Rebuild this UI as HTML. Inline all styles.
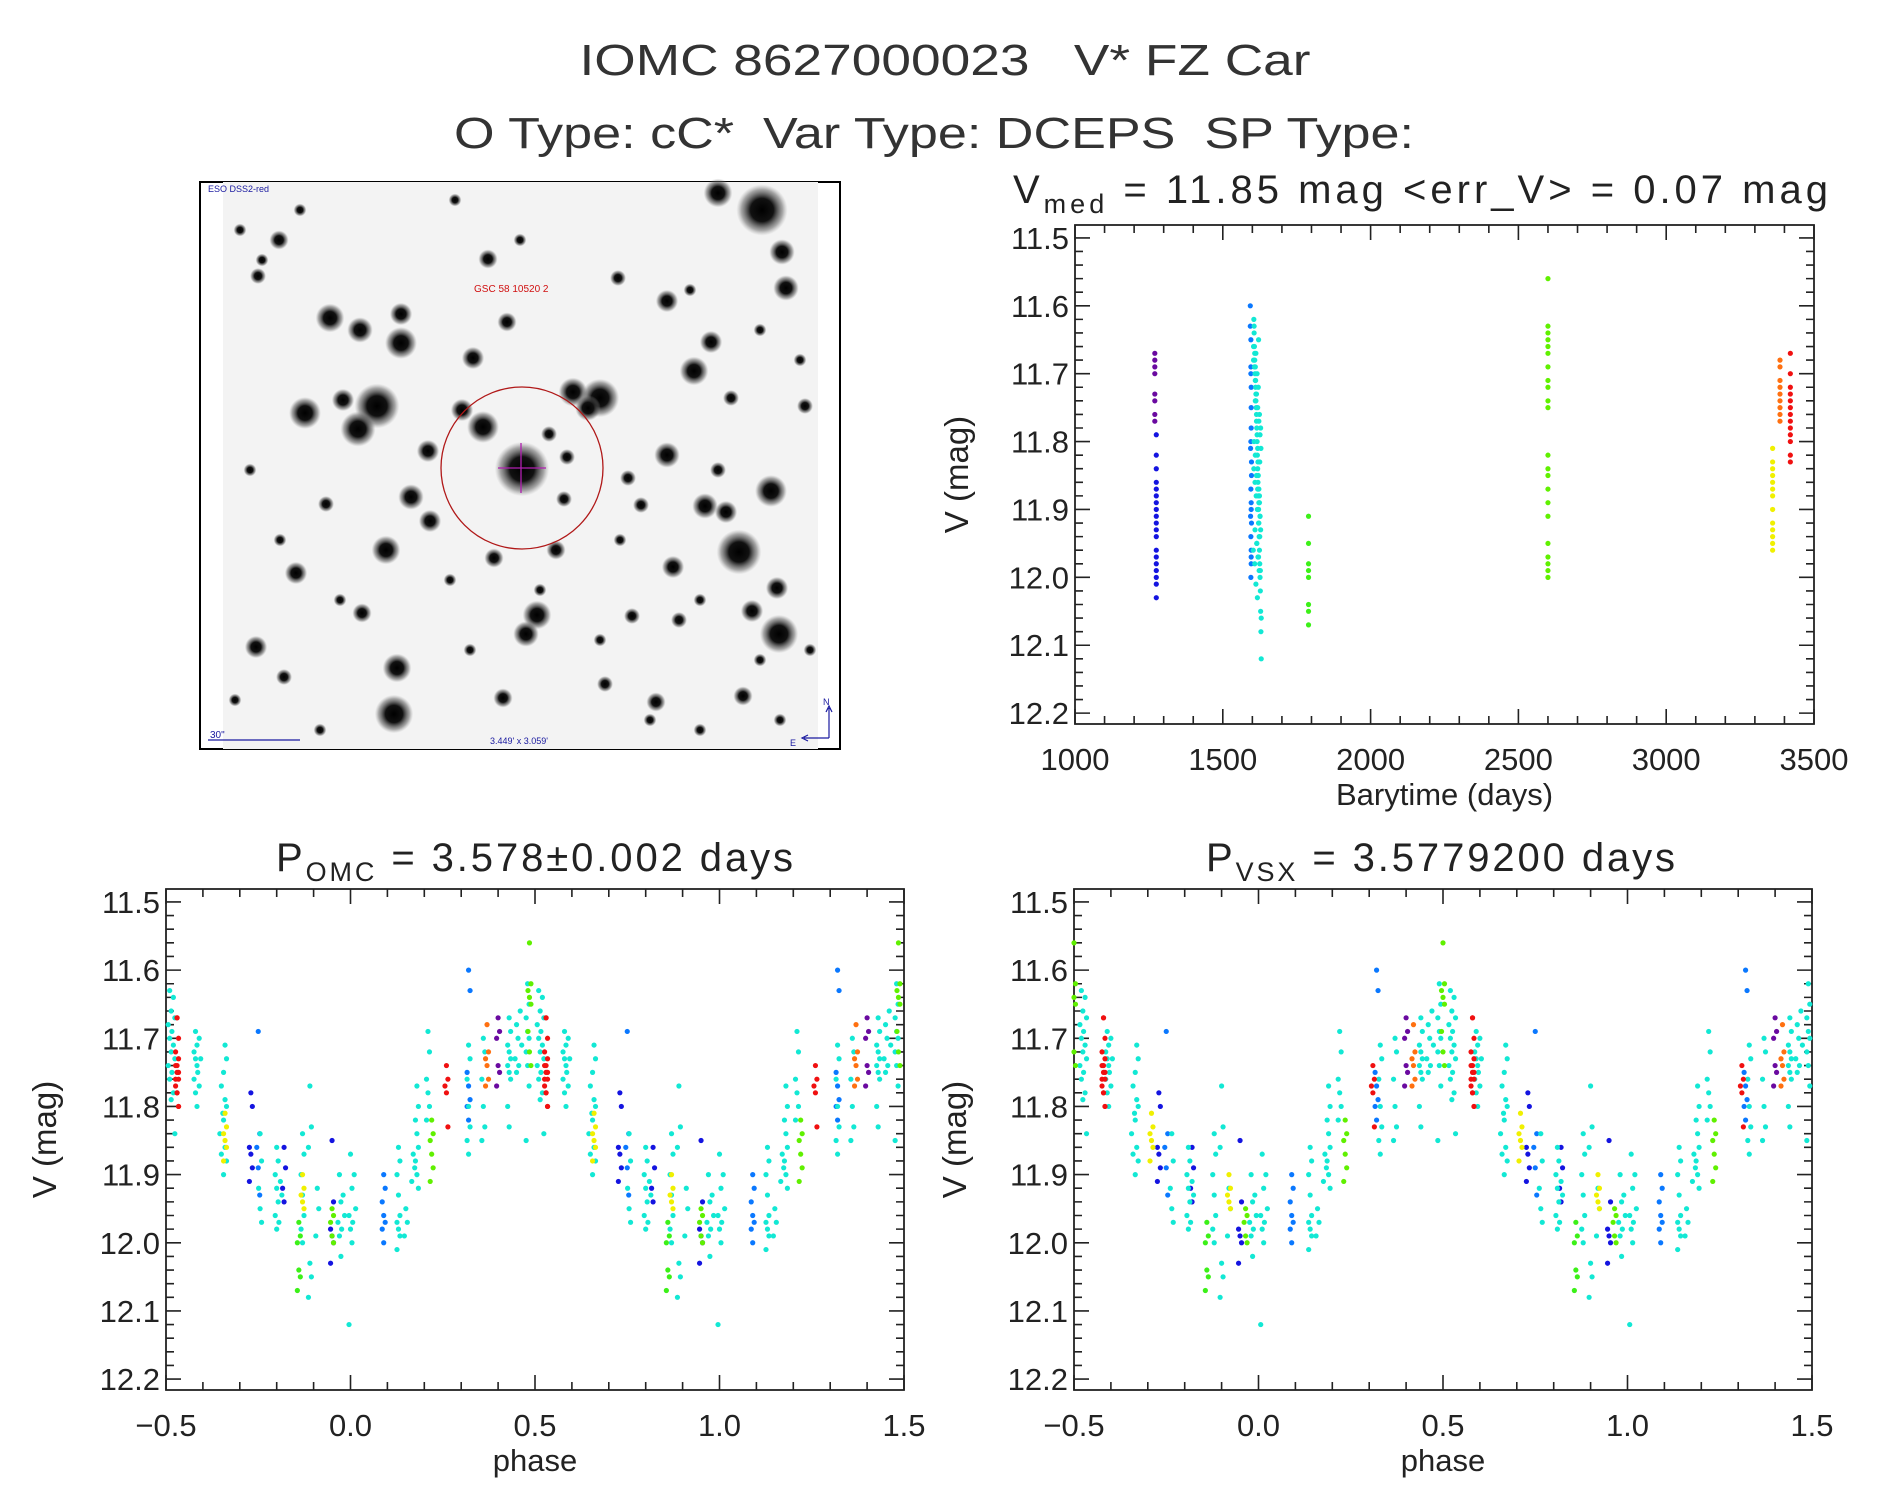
<!DOCTYPE html>
<html><head><meta charset="utf-8"><style>
html,body{margin:0;padding:0;background:#fff;}
svg{display:block;font-family:"Liberation Sans",sans-serif;}
</style></head><body>
<svg id="fig" width="1889" height="1494" viewBox="0 0 1889 1494" xmlns="http://www.w3.org/2000/svg">
<defs>
<radialGradient id="star"><stop offset="0" stop-color="#000"/><stop offset="0.45" stop-color="#111"/><stop offset="0.8" stop-color="#555" stop-opacity="0.5"/><stop offset="1" stop-color="#888" stop-opacity="0"/></radialGradient>
</defs>
<text x="945" y="75" font-size="44" text-anchor="middle" fill="#333" textLength="731" lengthAdjust="spacingAndGlyphs" xml:space="preserve">IOMC 8627000023   V* FZ Car</text>
<text x="934" y="148" font-size="44" text-anchor="middle" fill="#333" textLength="960" lengthAdjust="spacingAndGlyphs" xml:space="preserve">O Type: cC*  Var Type: DCEPS  SP Type:</text>
<g id="sky"></g>
<g id="plots"></g>
</svg>
<script>
const groupNames = ['purple','blue','dodger','cyan','green1790','green2600','yellow','orange','red'];
const groupColors = ['#6a0aa0','#1414e0','#0a78ff','#12e8d4','#3cf018','#60f000','#f0f000','#ff7010','#f01010'];
const purpleT=[1270,1270,1270,1270,1270,1270,1270,1270];
const purpleV=[11.67,11.68,11.69,11.70,11.73,11.74,11.76,11.77];
const blueT=[1275,1275,1275,1275,1275,1275,1275,1275,1275,1275,1275,1275,1275,1275,1275,1275,1275,1275,1275];
const blueV=[11.79,11.82,11.84,11.86,11.87,11.88,11.89,11.90,11.91,11.92,11.93,11.94,11.96,11.97,11.98,11.99,12.0,12.01,12.03];
const dodgerT=[1593,1593,1595,1595,1595,1596,1596,1596,1595,1597,1597,1595,1596,1596,1597,1595,1596,1596,1595,1594,1594,1596];
const dodgerV=[11.60,11.63,11.65,11.69,11.70,11.72,11.75,11.78,11.80,11.83,11.85,11.87,11.89,11.90,11.92,11.94,11.96,11.98,12.0,11.81,11.91,11.97];
const cyanT=[1605,1606,1607,1608,1609,1610,1611,1612,1613,1614,1615,1616,1617,1618,1619,1620,1621,1622,1623,1624,1625,1626,1627,1628,1629,1630,1606,1608,1610,1612,1614,1616,1618,1620,1622,1624,1626,1628,1615,1619,1623,1612,1617,1621,1625,1610,1620,1630,
 1604,1607,1611,1614,1618,1622,1626,1629,1605,1609,1613,1617,1621,1625,1603,1608,1612,1616,1620,1624,1628,1606,1610,1614,1618,1622,1626,1609,1615,1621,1627,1604,1611,1619,1624];
const cyanV=[11.62,11.64,11.66,11.68,11.70,11.71,11.72,11.73,11.75,11.76,11.78,11.80,11.82,11.84,11.86,11.88,11.90,11.92,11.94,11.96,11.98,12.00,12.02,12.05,12.08,12.12,11.63,11.67,11.69,11.74,11.77,11.79,11.81,11.85,11.87,11.89,11.91,11.93,11.95,11.97,11.99,12.01,12.03,11.65,11.83,11.74,11.90,12.06,
 11.66,11.69,11.71,11.73,11.75,11.77,11.79,11.81,11.84,11.86,11.88,11.90,11.92,11.94,11.96,11.98,11.67,11.70,11.72,11.76,11.78,11.80,11.82,11.85,11.87,11.89,11.91,11.93,11.95,11.97,11.99,11.68,11.74,11.83,11.88];
const green1790T=[1790,1790,1790,1790,1790,1790,1790,1790];
const green1790V=[11.91,11.95,11.98,11.99,12.0,12.04,12.05,12.07];
const green2600T=[2600,2600,2600,2600,2600,2600,2600,2600,2600,2600,2600,2600,2600,2600,2600,2600,2600,2600,2600,2600,2600,2600];
const green2600V=[11.56,11.63,11.64,11.65,11.66,11.67,11.69,11.71,11.72,11.74,11.75,11.82,11.84,11.85,11.87,11.89,11.91,11.95,11.97,11.98,11.99,12.0];
const yellowT=[3360,3360,3360,3360,3360,3360,3360,3360,3360,3360,3360,3360,3360];
const yellowV=[11.81,11.83,11.84,11.85,11.86,11.87,11.88,11.90,11.92,11.93,11.94,11.95,11.96];
const orangeT=[3385,3385,3385,3385,3385,3385,3385,3385,3385];
const orangeV=[11.68,11.69,11.71,11.72,11.73,11.74,11.75,11.76,11.77];
const redT=[3420,3420,3420,3420,3420,3420,3420,3420,3420,3420,3420,3420,3420];
const redV=[11.67,11.70,11.72,11.73,11.74,11.75,11.76,11.77,11.78,11.79,11.80,11.82,11.83];
const seriesT=[purpleT,blueT,dodgerT,cyanT,green1790T,green2600T,yellowT,orangeT,redT];
const seriesV=[purpleV,blueV,dodgerV,cyanV,green1790V,green2600V,yellowV,orangeV,redV];

const purplePh=[[0.40,11.67,11.69,11.70,11.74,11.75,11.77]];
const bluePh=[[-0.27,11.78,11.80,11.86,11.87,11.89,11.91],[-0.18,11.86,11.89,11.92,11.94],[-0.05,11.85,11.94,11.98,11.99,12.0,12.03]];
const dodgerPh=[[0.09,11.90,11.92,11.94,11.96,11.97,11.98,12.0],[0.32,11.60,11.63,11.75,11.77,11.79,11.80,11.82],[-0.25,11.69,11.84,11.86,11.89,11.93]];
const cyanPh=[[-0.49,11.63,11.66,11.68,11.70,11.72,11.74,11.76,11.79],[-0.48,11.64,11.67,11.69,11.71,11.73,11.75,11.78,11.84],
 [-0.42,11.69,11.71,11.72,11.73,11.74,11.76,11.78,11.80],[-0.41,11.70,11.73,11.75,11.77],[-0.34,11.71,11.73,11.75,11.79,11.80,11.82,11.86,11.88,11.90],[-0.35,11.77,11.81,11.84,11.87],
 [-0.245,11.84,11.88,11.92,11.95,11.97],[-0.20,11.86,11.88,11.90,11.92,11.94,11.96,11.98],[-0.19,11.91,11.93,11.97],
 [-0.13,11.84,11.87,11.90,11.93,11.96,11.98,12.00],[-0.11,12.03,12.05,12.08,11.77,11.83,11.86],[-0.09,11.92,11.95,11.99],
 [-0.03,11.90,11.94,11.97,11.99,12.02],[-0.02,11.93,11.96,11.98],[0.00,11.87,11.92,11.96,11.98,12.00,12.12],[0.01,11.90,11.95,11.97],
 [0.13,11.86,11.88,11.90,11.93,11.96,11.97,11.98,11.99,12.01],[0.15,11.95,11.97,11.99],[0.18,11.77,11.80,11.82,11.84,11.86,11.88,11.90,11.92],[0.17,11.87,11.89,11.91],
 [0.21,11.69,11.72,11.76,11.78,11.80,11.82],[0.32,11.71,11.73,11.76,11.80,11.83,11.85,11.87],[0.36,11.70,11.72,11.76,11.80,11.83,11.85],
 [0.43,11.67,11.69,11.71,11.72,11.73,11.74,11.75,11.76,11.80,11.83],[0.45,11.68,11.70,11.73,11.75],[0.48,11.62,11.65,11.67,11.69,11.70,11.72,11.74,11.77,11.85],[0.46,11.66,11.71,11.74]];
const green1790Ph=[[-0.14,11.97,11.99,12.0,12.04,12.05,12.07]];
const green2600Ph=[[0.485,11.56,11.62,11.63,11.64,11.65,11.69,11.72,11.74],[0.22,11.82,11.84,11.85,11.87,11.89,11.91],[-0.05,11.95,11.96,11.97,11.99,12.0]];
const yellowPh=[[-0.34,11.81,11.83,11.84,11.85,11.86,11.88],[-0.13,11.90,11.92,11.93,11.94,11.95]];
const orangePh=[[0.37,11.68,11.72,11.73,11.74,11.76,11.77]];
const redPh=[[-0.47,11.67,11.70,11.72,11.74,11.75,11.76,11.78,11.80],[0.26,11.74,11.76,11.77,11.78,11.83],[0.53,11.67,11.73,11.74,11.75,11.76,11.77,11.78,11.80]];
const phaseData=[purplePh,bluePh,dodgerPh,cyanPh,green1790Ph,green2600Ph,yellowPh,orangePh,redPh];
const vsxShift=[0,0,0,0.01,0,0.015,0.05,0.05,0.05];

const yTicks=['11.5','11.6','11.7','11.8','11.9','12.0','12.1','12.2'];
const timeTicks=['1000','1500','2000','2500','3000','3500'];
const phaseTicks=['−0.5','0.0','0.5','1.0','1.5'];

const starX=[762,718,330,360,401,401,377,358,305,343,483,462,522,573,600,588,428,411,430,386,537,526,394,397,739,771,779,705,726,667,694,711,782,786,667,473,507,279,488,618,731,777,752,296,256,362,503,743,656,605,673,556,494,632,805,718,564,258,326,284,679,641,549,567,628,240,262,300,455,520,690,760,800,250,280,340,450,600,650,700,780,810,235,320,470,540,620,700,760];
const starY=[210,193,318,330,314,343,406,429,413,400,427,410,469,392,398,408,451,497,521,550,615,634,714,668,552,491,634,506,512,455,371,342,252,288,301,358,322,240,259,278,398,588,611,573,647,613,698,696,702,684,567,550,558,616,406,470,499,276,504,677,620,505,434,457,478,230,260,210,200,240,290,330,360,470,540,600,580,640,720,730,720,650,700,730,650,590,540,600,660];
const starR=[16,9,9,8,7,10,14,11,10,7,10,7,17,9,12,8,7,8,7,9,9,8,12,9,14,10,12,8,7,8,9,7,8,8,7,7,6,6,6,5,5,7,7,7,7,6,6,6,6,5,7,6,6,5,5,5,5,5,5,5,5,5,5,5,5,4,4,4,4,4,4,4,4,4,4,4,4,4,4,4,4,4,4,4,4,4,4,4,4];

const NS='http://www.w3.org/2000/svg';
function mk(tag,attrs,parent){const e=document.createElementNS(NS,tag);for(const k in attrs)e.setAttribute(k,attrs[k]);if(parent)parent.appendChild(e);return e;}

(function(){
  const g=document.getElementById('sky');
  const fr=mk('rect',{x:200,y:182,width:640,height:567,fill:'none',stroke:'#000','stroke-width':2},g);
  
  
  const bg=mk('rect',{x:223,y:182,width:595,height:567,fill:'#f3f3f3'},g);
  
  
  for(let i=0;i<starX.length;i++){
    const c=mk('circle',{cx:starX[i],cy:starY[i],r:starR[i]*1.6,fill:'url(#star)'},g);
    
    
  }
  const ring=mk('circle',{cx:522,cy:468,r:81,fill:'none',stroke:'#b01818','stroke-width':1.3},g);
  
  
  const ch=mk('path',{d:'M521 443 V493 M498 468 H546',stroke:'#b020b0','stroke-width':1.3},g);
  
  
  const t1=mk('text',{x:208,y:192,'font-size':9,fill:'#1a1aa0'},g);t1.textContent='ESO DSS2-red';
  
  
  const t2=mk('text',{x:474,y:292,'font-size':10,fill:'#d01010'},g);t2.textContent='GSC 58 10520 2';
  
  
  const t3=mk('text',{x:490,y:744,'font-size':9,fill:'#1a1aa0'},g);t3.textContent="3.449' x 3.059'";
  
  
  const t4=mk('text',{x:210,y:738,'font-size':10,fill:'#1a1aa0'},g);t4.textContent='30"';
  
  
  const sb=mk('path',{d:'M208 740 H300',stroke:'#1a1aa0','stroke-width':1.2},g);
  
  
  const ar=mk('path',{d:'M829 738 V708 M826 712 L829 706 L832 712 M829 738 H804 M808 735 L802 738 L808 741',stroke:'#1a1aa0','stroke-width':1.2,fill:'none'},g);
  
  
  const tn=mk('text',{x:823,y:705,'font-size':9,fill:'#1a1aa0'},g);tn.textContent='N';
  
  
  const te=mk('text',{x:790,y:746,'font-size':9,fill:'#1a1aa0'},g);te.textContent='E';
  
  
})();

const Y0=11.481, Y1=12.216;
function makePlot(name,L,R,T,B,x0,x1,xMajor,xMinor,xLabels,xTitle,yTitleX){
  const g=mk('g',{},document.getElementById('plots'));
  
  
  const sx=v=>L+(v-x0)/(x1-x0)*(R-L);
  const sy=v=>T+(v-Y0)/(Y1-Y0)*(B-T);
  const fr=mk('rect',{x:L,y:T,width:R-L,height:B-T,fill:'none',stroke:'#222','stroke-width':1.8},g);
  
  
  let d='';
  const nx=Math.round((x1-x0)/xMinor);
  for(let i=0;i<=nx;i++){const v=x0+i*xMinor;const X=sx(v);const maj=Math.abs((v-x0)/xMajor-Math.round((v-x0)/xMajor))<1e-6;const len=maj?15:8;d+=`M${X} ${B}V${B-len}M${X} ${T}V${T+len}`;}
  for(let i=0;i<=35;i++){const v=11.5+i*0.02;if(v>Y1)break;const Yp=sy(v);const maj=i%5===0;const len=maj?15:8;d+=`M${L} ${Yp}H${L+len}M${R} ${Yp}H${R-len}`;}
  const tk=mk('path',{d:d,stroke:'#222','stroke-width':1.6,fill:'none'},g);
  
  
  yTicks.forEach((s,i)=>{const t=mk('text',{x:L-6,y:sy(parseFloat(s))+11,'font-size':31,'text-anchor':'end',fill:'#222'},g);t.textContent=s;
    
    });
  xLabels.forEach((s,i)=>{const v=x0+i*xMajor;const t=mk('text',{x:sx(v),y:B+46,'font-size':31,'text-anchor':'middle',fill:'#222'},g);t.textContent=s;
    
    });
  const xt=mk('text',{x:(L+R)/2,y:B+81,'font-size':31,'text-anchor':'middle',fill:'#222'},g);xt.textContent=xTitle;
  
  
  const cy=(T+B)/2;
  const yt=mk('text',{x:yTitleX,y:cy,'font-size':33,'text-anchor':'middle',fill:'#222',transform:`rotate(-90 ${yTitleX} ${cy})`},g);yt.textContent='V (mag)';
  
  
  return {g,sx,sy};
}
function dot(g,x,y,c){const e=mk('circle',{cx:x,cy:y,r:2.6,fill:c},g);
  
  }

const p1=makePlot('light-curve-plot',1075,1814,225,724,1000,3500,500,100,timeTicks,'Barytime (days)',968);
for(let gi=0;gi<groupNames.length;gi++){const T=seriesT[gi],V=seriesV[gi];for(let i=0;i<T.length;i++)dot(p1.g,p1.sx(T[i]),p1.sy(V[i]),groupColors[gi]);}

function drawPhased(p,shiftArr){
  for(let gi=0;gi<phaseData.length;gi++){
    phaseData[gi].forEach(cl=>{
      let ph=cl[0]+shiftArr[gi];
      while(ph<-0.5)ph+=1; while(ph>=0.5)ph-=1;
      for(let k=1;k<cl.length;k++){
        const jit=((k%3)-1)*0.004;
        [ph+jit,ph+jit+1].forEach(q=>{if(q>=-0.5&&q<=1.5)dot(p.g,p.sx(q),p.sy(cl[k]),groupColors[gi]);});
      }
    });
  }
}
const p2=makePlot('omc-phase-plot',166,904,889,1390,-0.5,1.5,0.5,0.1,phaseTicks,'phase',56);
drawPhased(p2,[0,0,0,0,0,0,0,0,0]);
const p3=makePlot('vsx-phase-plot',1074,1812,889,1390,-0.5,1.5,0.5,0.1,phaseTicks,'phase',966);
drawPhased(p3,vsxShift);

function title(name,x,y,len,main,sub,rest){
  const t=mk('text',{x:x,y:y,'font-size':40,fill:'#222','xml:space':'preserve',textLength:len,lengthAdjust:'spacing'},document.getElementById('fig'));
  
  
  const a=mk('tspan',{},t);a.textContent=main;
  const b=mk('tspan',{'font-size':27,dy:10},t);b.textContent=sub;
  const c=mk('tspan',{dy:-10},t);c.textContent=rest;
}
title('light-curve-title',1013,203,815,'V','med','  =  11.85  mag  <err_V>  =  0.07  mag');
title('omc-period-title',276,871,517,'P','OMC','  =  3.578±0.002  days');
title('vsx-period-title',1206,871,469,'P','VSX','  =  3.5779200  days');
</script>
</body></html>
